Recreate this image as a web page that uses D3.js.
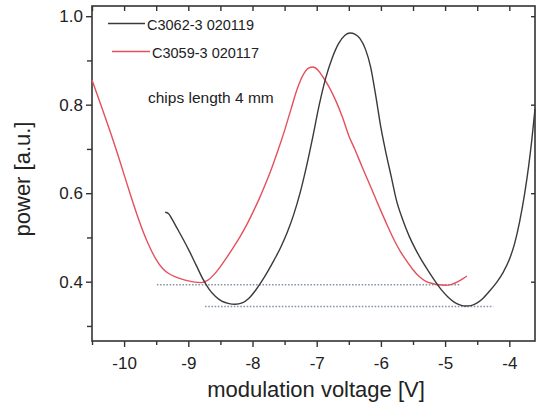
<!DOCTYPE html>
<html>
<head>
<meta charset="utf-8">
<script src="https://cdn.jsdelivr.net/npm/d3@7"></script>
<style>
  html, body { margin: 0; padding: 0; background: #fff; }
  svg { display: block; }
  text { font-family: "Liberation Sans", Arial, sans-serif; fill: #222; }
</style>
</head>
<body>
<svg id="chart" width="536" height="408"></svg>
<script>
// Measured transmission curves: modulation voltage [V] vs. optical power [a.u.]
const chipA_name = "C3062-3 020119";
const chipA_voltage = [-9.36, -9.31, -9.26, -9.18, -9.08, -8.98, -8.88, -8.78, -8.68, -8.58, -8.48, -8.38, -8.27, -8.16, -8.06, -7.96, -7.86, -7.76, -7.66, -7.56, -7.46, -7.36, -7.26, -7.16, -7.06, -6.96, -6.86, -6.76, -6.66, -6.56, -6.48, -6.40, -6.32, -6.24, -6.16, -6.08, -6.00, -5.92, -5.84, -5.76, -5.66, -5.56, -5.46, -5.36, -5.26, -5.16, -5.06, -4.96, -4.86, -4.76, -4.68, -4.60, -4.50, -4.40, -4.30, -4.20, -4.10, -4.00, -3.92, -3.84, -3.76, -3.70, -3.65, -3.60];
const chipA_power   = [0.557, 0.554, 0.543, 0.522, 0.496, 0.468, 0.438, 0.408, 0.384, 0.367, 0.356, 0.351, 0.349, 0.352, 0.362, 0.379, 0.400, 0.424, 0.450, 0.478, 0.511, 0.551, 0.600, 0.660, 0.728, 0.800, 0.860, 0.905, 0.938, 0.957, 0.962, 0.959, 0.948, 0.925, 0.885, 0.820, 0.748, 0.690, 0.638, 0.585, 0.540, 0.503, 0.473, 0.447, 0.424, 0.402, 0.382, 0.366, 0.354, 0.347, 0.345, 0.346, 0.352, 0.364, 0.380, 0.398, 0.420, 0.450, 0.485, 0.535, 0.600, 0.660, 0.720, 0.790];

const chipB_name = "C3059-3 020117";
const chipB_voltage = [-10.50, -10.40, -10.30, -10.20, -10.10, -10.00, -9.90, -9.80, -9.70, -9.60, -9.50, -9.40, -9.30, -9.20, -9.10, -9.00, -8.90, -8.80, -8.70, -8.60, -8.50, -8.40, -8.30, -8.20, -8.10, -8.00, -7.90, -7.80, -7.70, -7.60, -7.50, -7.40, -7.30, -7.20, -7.12, -7.06, -6.98, -6.90, -6.80, -6.70, -6.60, -6.50, -6.40, -6.30, -6.20, -6.10, -6.00, -5.90, -5.80, -5.70, -5.60, -5.50, -5.40, -5.30, -5.20, -5.10, -5.00, -4.90, -4.80, -4.72, -4.66];
const chipB_power   = [0.856, 0.815, 0.774, 0.732, 0.688, 0.642, 0.596, 0.552, 0.512, 0.478, 0.450, 0.430, 0.418, 0.411, 0.406, 0.402, 0.399, 0.398, 0.403, 0.416, 0.434, 0.455, 0.477, 0.500, 0.526, 0.555, 0.586, 0.620, 0.657, 0.698, 0.742, 0.790, 0.837, 0.870, 0.883, 0.885, 0.878, 0.862, 0.838, 0.808, 0.772, 0.730, 0.697, 0.662, 0.628, 0.594, 0.560, 0.527, 0.496, 0.469, 0.447, 0.427, 0.411, 0.401, 0.396, 0.393, 0.392, 0.394, 0.400, 0.407, 0.413];

// Reference levels (dotted): [start voltage, end voltage, power]
const refLevelUpper = [-9.49, -4.77, 0.393];
const refLevelLower = [-8.74, -4.25, 0.344];

const xMajorTicks = [-10, -9, -8, -7, -6, -5, -4];
const xMinorTicks = [-10.5, -9.5, -8.5, -7.5, -6.5, -5.5, -4.5];
const yMajorTicks = [0.4, 0.6, 0.8, 1.0];
const yMinorTicks = [0.3, 0.5, 0.7, 0.9];

const annotation = "chips length 4 mm";
const xTitle = "modulation voltage [V]";
const yTitle = "power [a.u.]";

const svg = d3.select("#chart");
const plotLeft = 92, plotRight = 535, plotTop = 6, plotBottom = 341;

const x = d3.scaleLinear().domain([-10.5, -3.6]).range([plotLeft, plotRight]);
const y = d3.scaleLinear().domain([0.266, 1.023]).range([plotBottom, plotTop]);

const axisColor = "#333";
const axisStyle = g => {
  g.select(".domain").remove();
  g.selectAll("line").attr("stroke", axisColor).attr("stroke-width", 1.4);
  g.selectAll("text").attr("font-size", 17).attr("fill", "#222")
    .attr("font-family", "'Liberation Sans', Arial, sans-serif");
};

// bottom axis: labelled majors (plain hyphen minus), short minors (outward)
svg.append("g").attr("transform", `translate(0,${plotBottom})`)
  .call(d3.axisBottom(x).tickValues(xMajorTicks).tickSize(6).tickPadding(10).tickFormat(d => String(d)))
  .call(axisStyle);
svg.append("g").attr("transform", `translate(0,${plotBottom})`)
  .call(d3.axisBottom(x).tickValues(xMinorTicks).tickSize(4).tickFormat(""))
  .call(axisStyle);

// top axis: inward ticks
svg.append("g").attr("transform", `translate(0,${plotTop})`)
  .call(d3.axisBottom(x).tickValues(xMajorTicks.concat(xMinorTicks)).tickSize(5).tickFormat(""))
  .call(axisStyle);

// left axis
svg.append("g").attr("transform", `translate(${plotLeft},0)`)
  .call(d3.axisLeft(y).tickValues(yMajorTicks).tickSize(6).tickPadding(3).tickFormat(d3.format(".1f")))
  .call(axisStyle);
svg.append("g").attr("transform", `translate(${plotLeft},0)`)
  .call(d3.axisLeft(y).tickValues(yMinorTicks).tickSize(5).tickFormat(""))
  .call(axisStyle);

// right axis: inward ticks
svg.append("g").attr("transform", `translate(${plotRight},0)`)
  .call(d3.axisLeft(y).tickValues(yMajorTicks).tickSize(4).tickFormat(""))
  .call(axisStyle);

// frame
svg.append("rect")
  .attr("x", plotLeft).attr("y", plotTop)
  .attr("width", plotRight - plotLeft).attr("height", plotBottom - plotTop)
  .attr("fill", "none").attr("stroke", axisColor).attr("stroke-width", 1.6);

// dotted reference levels
const levelColor = "#8c97a8";
[refLevelUpper, refLevelLower].forEach(([x0, x1, p]) => {
  svg.append("line")
    .attr("x1", x(x0)).attr("x2", x(x1))
    .attr("y1", y(p)).attr("y2", y(p))
    .attr("stroke", levelColor).attr("stroke-width", 1.5)
    .attr("stroke-dasharray", "1.6,1.6");
});

const line = d3.line().x(d => x(d[0])).y(d => y(d[1])).curve(d3.curveMonotoneX);

const chipA = chipA_voltage.map((v, i) => [v, chipA_power[i]]);
const chipB = chipB_voltage.map((v, i) => [v, chipB_power[i]]);

const colorA = "#3a3a3a", colorB = "#e4505c";

svg.append("path").datum(chipB).attr("d", line)
  .attr("fill", "none").attr("stroke", colorB).attr("stroke-width", 1.4);
svg.append("path").datum(chipA).attr("d", line)
  .attr("fill", "none").attr("stroke", colorA).attr("stroke-width", 1.4);

// legend
const legend = [
  { name: chipA_name, color: colorA, x0: 108, x1: 145, ly: 23.5, tx: 147, ty: 29.5 },
  { name: chipB_name, color: colorB, x0: 112, x1: 150, ly: 51.5, tx: 152, ty: 57.5 }
];
legend.forEach(l => {
  svg.append("line").attr("x1", l.x0).attr("x2", l.x1).attr("y1", l.ly).attr("y2", l.ly)
    .attr("stroke", l.color).attr("stroke-width", 1.4);
  svg.append("text").attr("x", l.tx).attr("y", l.ty).attr("font-size", 14.5).text(l.name);
});

svg.append("text").attr("x", 148).attr("y", 103).attr("font-size", 15.5).text(annotation);

// axis titles
svg.append("text").attr("x", 316).attr("y", 397)
  .attr("text-anchor", "middle").attr("font-size", 22).text(xTitle);
svg.append("text").attr("transform", "translate(30,179) rotate(-90)")
  .attr("text-anchor", "middle").attr("font-size", 22).text(yTitle);
</script>
</body>
</html>
